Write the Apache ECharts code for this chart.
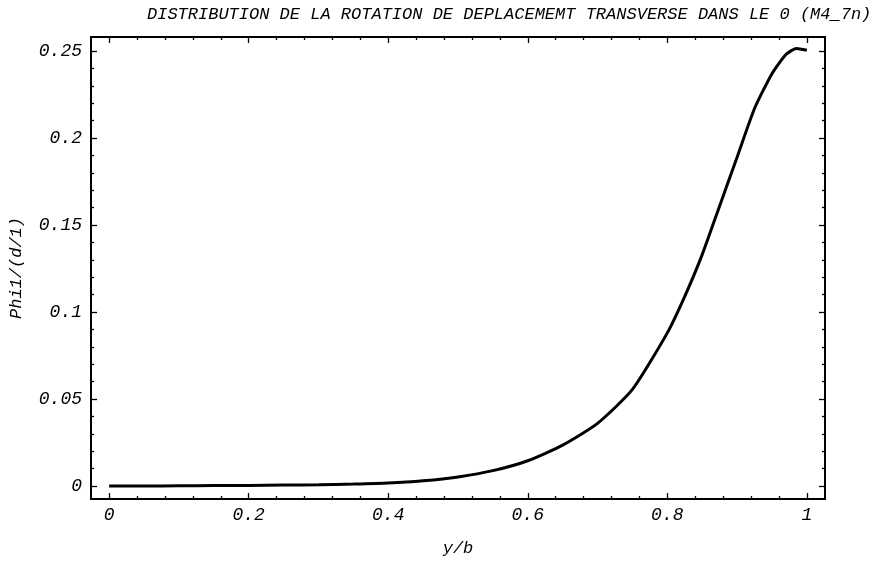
<!DOCTYPE html>
<html>
<head>
<meta charset="utf-8">
<script src="https://cdn.jsdelivr.net/npm/echarts@6/dist/echarts.min.js"></script>
<style>
html,body{margin:0;padding:0;background:#fff;}
#chart{width:874px;height:564px;}
</style>
</head>
<body>
<div id="chart"></div>
<script>
// courbe Phi1/(d/1) en fonction de y/b
var xVals = [0, 0.05, 0.1, 0.15, 0.2, 0.25, 0.3, 0.35, 0.4, 0.45, 0.5, 0.55, 0.6, 0.65, 0.7, 0.75, 0.8, 0.825, 0.85, 0.875, 0.9, 0.925, 0.95, 0.97, 0.985, 1.0];
var yVals = [0, 0, 0.0001, 0.0002, 0.0003, 0.0005, 0.0007, 0.0011, 0.0017, 0.003, 0.0052, 0.0088, 0.0145, 0.0235, 0.036, 0.0555, 0.088, 0.109, 0.133, 0.161, 0.189, 0.217, 0.237, 0.248, 0.2515, 0.2505];

// graduations
var xTicks = [0, 0.2, 0.4, 0.6, 0.8, 1];
var xTickLabels = ['0', '0.2', '0.4', '0.6', '0.8', '1'];
var yTicks = [0, 0.05, 0.1, 0.15, 0.2, 0.25];
var yTickLabels = ['0', '0.05', '0.1', '0.15', '0.2', '0.25'];

var XMIN = -0.026, XMAX = 1.026;
var YMIN = -0.0075, YMAX = 0.2581;

var xMinor = [];
for (var i = 0; i < xTicks.length - 1; i++) {
    for (var k = 1; k < 5; k++) xMinor.push(+(xTicks[i] + k * 0.04).toFixed(3));
}
var yMinor = [];
for (var j = 0; j < yTicks.length - 1; j++) {
    for (var m = 1; m < 5; m++) yMinor.push(+(yTicks[j] + m * 0.01).toFixed(3));
}

var data = [];
for (var n = 0; n < xVals.length; n++) data.push([xVals[n], yVals[n]]);

var FONT = '"Liberation Mono", "DejaVu Sans Mono", monospace';
var lineSty = {color: '#000', width: 2};

function xLabel(v) { return xTickLabels[xTicks.indexOf(v)]; }
function yLabel(v) { return yTickLabels[yTicks.indexOf(v)]; }

function mkX(pos, ticks, len, withLabel) {
    var ax = {
        type: 'value', position: pos, min: XMIN, max: XMAX,
        axisLine: {show: true, lineStyle: lineSty, onZero: false},
        axisTick: {show: true, inside: true, length: len, customValues: ticks, lineStyle: {color: '#000', width: 1.3}},
        axisLabel: {show: false},
        splitLine: {show: false}
    };
    if (withLabel) {
        ax.axisLabel = {show: true, customValues: ticks, formatter: xLabel, margin: 7,
            fontFamily: FONT, fontStyle: 'italic', fontSize: 18, color: '#000'};
        ax.name = 'y/b';
        ax.nameLocation = 'middle';
        ax.nameGap = 41;
        ax.nameTextStyle = {fontFamily: FONT, fontStyle: 'italic', fontSize: 17, color: '#000'};
    }
    return ax;
}
function mkY(pos, ticks, len, withLabel) {
    var ax = {
        type: 'value', position: pos, min: YMIN, max: YMAX,
        axisLine: {show: true, lineStyle: lineSty, onZero: false},
        axisTick: {show: true, inside: true, length: len, customValues: ticks, lineStyle: {color: '#000', width: 1.3}},
        axisLabel: {show: false},
        splitLine: {show: false}
    };
    if (withLabel) {
        ax.axisLabel = {show: true, customValues: ticks, formatter: yLabel, margin: 9,
            fontFamily: FONT, fontStyle: 'italic', fontSize: 18, color: '#000'};
        ax.name = 'Phi1/(d/1)';
        ax.nameLocation = 'middle';
        ax.nameGap = 66;
        ax.nameTextStyle = {fontFamily: FONT, fontStyle: 'italic', fontSize: 17, color: '#000'};
    }
    return ax;
}

var chart = echarts.init(document.getElementById('chart'));
chart.setOption({
    backgroundColor: '#fff',
    animation: false,
    title: {
        text: 'DISTRIBUTION DE LA ROTATION DE DEPLACEMEMT TRANSVERSE DANS LE 0 (M4_7n)',
        left: 142, top: 1,
        textStyle: {fontFamily: FONT, fontStyle: 'italic', fontWeight: 'normal', fontSize: 17, color: '#000'}
    },
    grid: {left: 91, right: 49, top: 37, bottom: 65},
    xAxis: [
        mkX('bottom', xTicks, 6, true),
        mkX('bottom', xMinor, 3, false),
        mkX('top', xTicks, 6, false),
        mkX('top', xMinor, 3, false)
    ],
    yAxis: [
        mkY('left', yTicks, 6, true),
        mkY('left', yMinor, 3, false),
        mkY('right', yTicks, 6, false),
        mkY('right', yMinor, 3, false)
    ],
    series: [{
        type: 'line',
        xAxisIndex: 0, yAxisIndex: 0,
        data: data,
        smooth: 0.2,
        showSymbol: false,
        lineStyle: {color: '#000', width: 3}
    }]
});
</script>
</body>
</html>
